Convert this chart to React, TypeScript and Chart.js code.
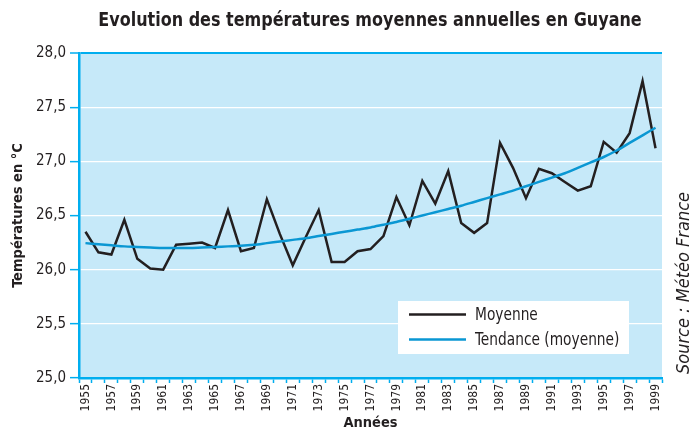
import React, { useEffect, useRef } from "react";
import { Chart, registerables } from "chart.js";

Chart.register(...registerables);

const years = [
  "1955", "1956", "1957", "1958", "1959", "1960", "1961", "1962", "1963", "1964",
  "1965", "1966", "1967", "1968", "1969", "1970", "1971", "1972", "1973", "1974",
  "1975", "1976", "1977", "1978", "1979", "1980", "1981", "1982", "1983", "1984",
  "1985", "1986", "1987", "1988", "1989", "1990", "1991", "1992", "1993", "1994",
  "1995", "1996", "1997", "1998", "1999",
];

const moyenne = [
  26.35, 26.16, 26.14, 26.46, 26.10, 26.01, 26.00, 26.23, 26.24, 26.25,
  26.20, 26.55, 26.17, 26.20, 26.65, 26.33, 26.04, 26.30, 26.55, 26.07,
  26.07, 26.17, 26.19, 26.31, 26.67, 26.41, 26.82, 26.61, 26.91, 26.43,
  26.34, 26.43, 27.17, 26.94, 26.66, 26.93, 26.89, 26.81, 26.73, 26.77,
  27.18, 27.08, 27.26, 27.74, 27.12,
];

const tendance = [
  26.245, 26.235, 26.225, 26.215, 26.21, 26.205, 26.2, 26.2, 26.2, 26.205,
  26.21, 26.215, 26.22, 26.23, 26.245, 26.26, 26.275, 26.29, 26.31, 26.33,
  26.35, 26.37, 26.39, 26.415, 26.44, 26.47, 26.5, 26.53, 26.56, 26.59,
  26.625, 26.66, 26.695, 26.73, 26.77, 26.81, 26.85, 26.89, 26.94, 26.99,
  27.04, 27.1, 27.17, 27.24, 27.31,
];

const seriesNames = ["Moyenne", "Tendance (moyenne)"];
const titleText = "Evolution des températures moyennes annuelles en Guyane";
const yTitle = "Températures en °C";
const xTitle = "Années";
const sourceText = "Source : Météo France";

const FONT = "'DejaVu Sans Condensed', 'DejaVu Sans', sans-serif";
const AXIS_BLUE = "#00aeef";
const BG_BLUE = "#c6e9f9";
const TEXT = "#231f20";
const BLACK_LINE = "#231f20";
const TREND_BLUE = "#0a97d3";

function condensedText(ctx: any, text: string, x: number, y: number, sx: number) {
  ctx.save();
  ctx.translate(x, y);
  ctx.scale(sx, 1);
  ctx.fillText(text, 0, 0);
  ctx.restore();
}

const decorPlugin = {
  id: "decor",
  beforeDraw(chart: any) {
    const { ctx, chartArea } = chart;
    ctx.save();
    ctx.fillStyle = "#ffffff";
    ctx.fillRect(0, 0, chart.width, chart.height);
    ctx.fillStyle = BG_BLUE;
    ctx.fillRect(chartArea.left, chartArea.top, chartArea.right - chartArea.left, chartArea.bottom - chartArea.top);
    ctx.restore();
  },
  afterDraw(chart: any) {
    const { ctx } = chart;
    ctx.save();
    // Title
    ctx.fillStyle = TEXT;
    ctx.font = `bold 20px ${FONT}`;
    ctx.textAlign = "center";
    ctx.textBaseline = "middle";
    condensedText(ctx, titleText, 370, 21, 0.89);
    // Source
    ctx.save();
    ctx.translate(684, 283);
    ctx.rotate(-Math.PI / 2);
    ctx.font = `italic 18px ${FONT}`;
    ctx.fillText(sourceText, 0, 0);
    ctx.restore();
    // Legend
    const lx = 398, ly = 301, lw = 231, lh = 53;
    ctx.fillStyle = "#ffffff";
    ctx.fillRect(lx, ly, lw, lh);
    const rows = [
      { name: seriesNames[0], color: BLACK_LINE, y: 314.5 },
      { name: seriesNames[1], color: TREND_BLUE, y: 339.5 },
    ];
    ctx.font = `18px ${FONT}`;
    ctx.textAlign = "left";
    ctx.textBaseline = "middle";
    for (const r of rows) {
      ctx.strokeStyle = r.color;
      ctx.lineWidth = 2.5;
      ctx.beginPath();
      ctx.moveTo(409, r.y);
      ctx.lineTo(466, r.y);
      ctx.stroke();
      ctx.fillStyle = TEXT;
      condensedText(ctx, r.name, 475, r.y + 1, 0.85);
    }
    ctx.restore();
  },
};

export default function App() {
  const ref = useRef<HTMLCanvasElement | null>(null);

  useEffect(() => {
    document.body.style.margin = "0";
    const canvas = ref.current;
    if (!canvas) return;
    const chart = new Chart(canvas, {
      type: "line",
      data: {
        labels: years,
        datasets: [
          {
            label: seriesNames[1],
            data: tendance,
            borderColor: TREND_BLUE,
            borderWidth: 2.5,
            pointRadius: 0,
            tension: 0.3,
            fill: false,
          },
          {
            label: seriesNames[0],
            data: moyenne,
            borderColor: BLACK_LINE,
            borderWidth: 2.5,
            pointRadius: 0,
            tension: 0,
            fill: false,
          },
        ],
      },
      options: {
        animation: false,
        responsive: false,
        devicePixelRatio: 1,
        layout: { padding: { top: 53, right: 29, bottom: 0, left: 0 } },
        plugins: {
          legend: { display: false },
          title: { display: false },
          tooltip: { enabled: false },
        },
        scales: {
          x: {
            type: "category",
            offset: true,
            afterFit(scale: any) {
              scale.height = 54;
            },
            grid: {
              offset: true,
              drawOnChartArea: false,
              drawTicks: true,
              tickLength: 5,
              tickColor: AXIS_BLUE,
              tickWidth: 1.5,
              color: AXIS_BLUE,
            },
            border: { display: true, color: AXIS_BLUE, width: 2.5 },
            ticks: {
              autoSkip: false,
              maxRotation: 90,
              minRotation: 90,
              padding: 1,
              color: TEXT,
              font: { family: FONT, size: 12 },
              callback(_v: any, i: number) {
                return i % 2 === 0 ? years[i] : "";
              },
            },
            title: {
              display: true,
              text: xTitle,
              color: TEXT,
              font: { family: FONT, size: 14.5, weight: "bold", lineHeight: 1.1 },
              padding: { top: 0, bottom: 1 },
            },
          },
          y: {
            min: 25,
            max: 28,
            afterFit(scale: any) {
              scale.width = 79;
            },
            grid: {
              drawTicks: true,
              tickLength: 9,
              tickColor: AXIS_BLUE,
              tickWidth: 1.5,
              color: (c: any) => (c.tick && c.tick.value === 28 ? AXIS_BLUE : "#ffffff"),
              lineWidth: (c: any) => (c.tick && c.tick.value === 28 ? 2 : 1.3),
            },
            border: { display: true, color: AXIS_BLUE, width: 2.5 },
            ticks: {
              stepSize: 0.5,
              padding: 4,
              color: TEXT,
              font: { family: FONT, size: 15 },
              callback(v: any) {
                return Number(v).toFixed(1).replace(".", ",");
              },
            },
            title: {
              display: true,
              text: yTitle,
              color: TEXT,
              font: { family: FONT, size: 14.5, weight: "bold", lineHeight: 1.1 },
              padding: { top: 10, bottom: 0 },
            },
          },
        },
      },
      plugins: [decorPlugin],
    } as any);
    return () => chart.destroy();
  }, []);

  return (
    <div style={{ width: 691, height: 432, position: "relative" }}>
      <canvas ref={ref} width={691} height={432} style={{ width: 691, height: 432, display: "block" }} />
    </div>
  );
}
